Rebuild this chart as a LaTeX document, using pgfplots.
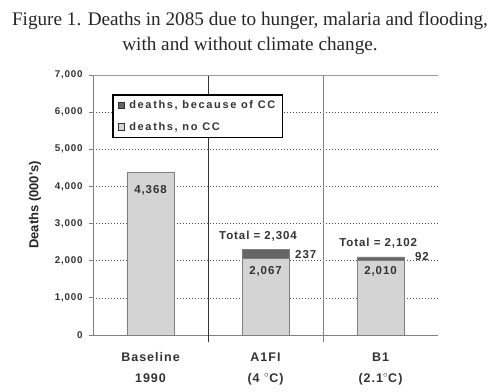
\documentclass[border=0pt]{standalone}
\usepackage{pgfplots}
\pgfplotsset{compat=1.18}
\usepackage{fontspec}
\setmainfont{Liberation Serif}
\newfontfamily\arialb{Liberation Sans Bold}[LetterSpace=8]
\newfontfamily\arialw{Liberation Sans Bold}[LetterSpace=15]
\newfontfamily\arialn{Liberation Sans Bold}
\definecolor{lightbar}{HTML}{D4D4D4}
\definecolor{darkbar}{HTML}{666666}
\definecolor{edge}{HTML}{7F7F7F}
\definecolor{txt}{HTML}{333333}
\tikzset{lbl/.style={font=\arialb\fontsize{11.5bp}{13bp}\selectfont, text=txt}}
\begin{document}
\begin{tikzpicture}
\useasboundingbox (-93bp,-57bp) rectangle (407bp,335bp);
\node[font=\fontsize{19.2bp}{25bp}\selectfont, text=black!85, align=center] at (157bp,302bp)
  {Figure 1. Deaths in 2085 due to hunger, malaria and flooding,\\with and without climate change.};
\begin{axis}[
  at={(0,0)}, anchor=south west,
  scale only axis, width=345bp, height=260bp,
  xmin=-0.5, xmax=2.5, ymin=0, ymax=7000,
  ybar stacked, bar width=47bp,
  axis lines=left,
  axis line style={-, draw=edge, line width=0.8pt},
  tick align=outside,
  major tick length=4bp,
  ytick={0,1000,...,7000},
  ymajorgrids,
  major grid style={draw=black!70, dash pattern=on 0.9pt off 2.1pt, line width=0.6pt},
  tick style={draw=edge, line width=0.8pt},
  yticklabel style={font=\arialb\fontsize{9.8bp}{11bp}\selectfont, text=txt, xshift=-3bp},
  /pgf/number format/assume math mode=true,
  /pgf/number format/1000 sep={,},
  xtick={0,1,2},
  xticklabels={Baseline\\1990, A1FI\\(4 $^{\circ}$C), B1\\(2.1$^{\circ}$C)},
  xticklabel style={font=\arialb\fontsize{12.5bp}{21bp}\selectfont, text=txt, align=center, yshift=-10bp},
  major x tick style={draw=none},
  ylabel={Deaths (000's)},
  ylabel style={font=\arialn\fontsize{13bp}{15bp}\selectfont, text=black!85, at={(axis description cs:-0.168,0.5)}, anchor=center},
  legend style={at={(axis description cs:0.055,0.927)}, anchor=north west,
     draw=black, line width=1.6pt, fill=white,
     font=\arialw\fontsize{11bp}{12bp}\selectfont, text=txt,
     row sep=8bp, column sep=2bp, inner xsep=5bp, inner ysep=4bp,
     legend cell align=left},
  legend image code/.code={\draw[#1, line width=1pt, draw=black!80] (0bp,-3.3bp) rectangle (6.6bp,3.3bp);},
  clip=false,
]
\addlegendimage{fill=darkbar}
\addlegendentry{deaths, because of CC}
\addlegendimage{fill=lightbar}
\addlegendentry{deaths, no CC}
\addplot[fill=lightbar, draw=edge, line width=0.8pt, forget plot] coordinates {(0,4368) (1,2067) (2,2010)};
\addplot[fill=darkbar, draw=edge, line width=0.8pt, forget plot] coordinates {(0,0) (1,237) (2,92)};
\draw[draw=edge!80, line width=0.8pt] (axis cs:-0.5,7000) -- (axis cs:2.5,7000);
\draw[draw=black!80, line width=0.8pt] (axis cs:0.5,-200) -- (axis cs:0.5,7000);
\draw[draw=edge, line width=0.8pt] (axis cs:1.5,-200) -- (axis cs:1.5,7000);
\coordinate (v1) at (axis cs:0,3900);
\coordinate (v2) at (axis cs:1,1700);
\coordinate (v3) at (axis cs:2,1720);
\coordinate (t1) at (axis cs:0.935,2665);
\coordinate (t2) at (axis cs:1.98,2477);
\coordinate (c1) at (axis cs:1.35,2160);
\coordinate (c2) at (axis cs:2.36,2110);
\end{axis}
\node[lbl] at (v1) {4,368};
\node[lbl] at (v2) {2,067};
\node[lbl] at (v3) {2,010};
\node[lbl] at (t1) {Total = 2,304};
\node[lbl] at (t2) {Total = 2,102};
\node[lbl] at (c1) {237};
\node[lbl] at (c2) {92};
\end{tikzpicture}
\end{document}
